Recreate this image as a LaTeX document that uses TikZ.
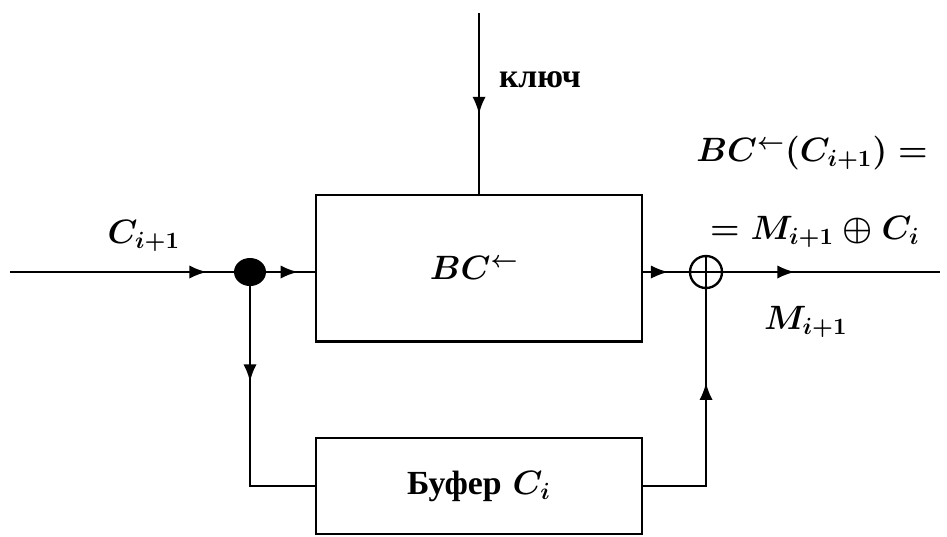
\documentclass[tikz,border=0pt]{standalone}
\usepackage{fontspec}
\newfontfamily\cyrfont{Liberation Serif}
\usetikzlibrary{arrows.meta,positioning,shapes.geometric,decorations.markings}

\begin{document}
\begin{tikzpicture}[x=0.015cm, y=-0.015cm,
  block/.style={draw, line width=1pt, minimum width=4.89cm, font=\Large\boldmath},
  wire/.style={line width=1pt},
  arrowat/.style={wire, postaction={decorate}, decoration={markings, mark=at position #1 with {\arrow{Latex[length=2.6mm,width=2mm]}}}},
  lbl/.style={font=\Large\boldmath},
  cyrlbl/.style={font=\Large\cyrfont\bfseries},
  dot/.style={ellipse, fill, minimum width=0.48cm, minimum height=0.42cm, inner sep=0pt},
  xorop/.style={circle, draw, line width=1pt, minimum size=0.48cm, inner sep=0pt,
    path picture={\draw[line width=1pt] (path picture bounding box.north) -- (path picture bounding box.south)
      (path picture bounding box.west) -- (path picture bounding box.east);}}
]
  \useasboundingbox (0,0) rectangle (947,536);
  % blocks
  \node[block, minimum height=2.2cm] (bc) at (479,268) {$BC^{\leftarrow}$\kern4pt};
  \node[block, minimum height=1.44cm] (buf) at (479,486) {{\cyrfont\bfseries Буфер} $C_i$};
  % junctions and free ends
  \coordinate (in) at (10,272);
  \coordinate (key) at (479,13);
  \coordinate (out) at (940,272);
  \node[dot] (split) at (250,272) {};
  \node[xorop] (xor) at (706,272) {};

  \draw[arrowat=0.88] (in) -- (split);
  \draw[arrowat=0.65] (split) -- (split -| bc.west);
  \draw[arrowat=0.56] (key) -- (bc.north);
  \draw[arrowat=0.55] (xor -| bc.east) -- (xor);
  \draw[arrowat=0.33] (xor) -- (out);
  \draw[arrowat=0.36] (split) |- (buf.west);
  \draw[arrowat=0.64] (buf.east) -| (xor);

  % labels
  \node[lbl] (cin) at (144,236) {$C_{i+1}$};
  \node[cyrlbl] (keylbl) at (540,80) {ключ};
  \node[lbl] (mout) at (806,322) {$M_{i+1}$};
  \node[lbl] (eqtop) at (812,153) {$BC^{\leftarrow}(C_{i+1}) =$};
  \node[lbl] (eqbot) at (815,232) {$= M_{i+1} \oplus C_i$};
\end{tikzpicture}
\end{document}
